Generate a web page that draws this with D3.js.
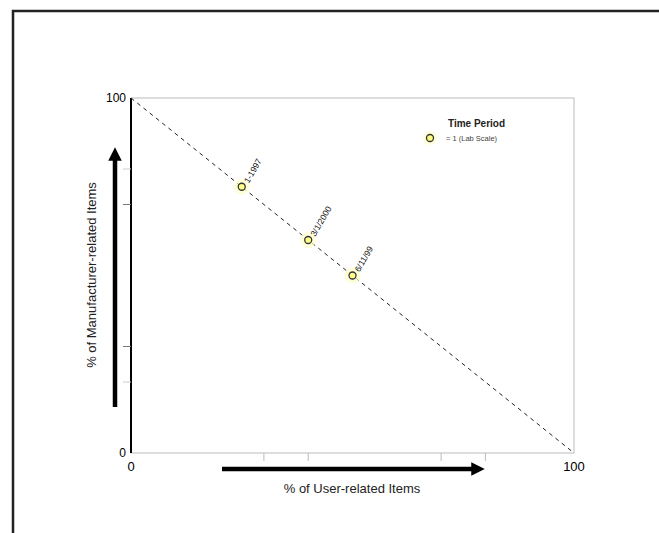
<!DOCTYPE html>
<html><head><meta charset="utf-8">
<script src="https://cdn.jsdelivr.net/npm/d3@7"></script>
<style>body{margin:0;background:#fff}svg{display:block}</style>
</head><body>
<script>
const pointX = [25, 40, 50];
const pointY = [75, 60, 50];
const pointLabels = ["1-1997", "3/1/2000", "6/11/99"];
const axisTicks = [0, 100];
const xMinorTicks = [30, 40, 70, 80];
const yMinorTicks = [20, 30, 70, 80];
const legendTitle = "Time Period";
const legendLabel = "= 1 (Lab Scale)";
const xTitle = "% of User-related Items";
const yTitle = "% of Manufacturer-related Items";

const W = 659, H = 533;
const svg = d3.select("body").append("svg").attr("width", W).attr("height", H);
svg.append("rect").attr("width", W).attr("height", H).attr("fill", "#fff");
svg.append("path").attr("d", `M13,${H+5} L13,11 L${W+5},11`).attr("fill","none").attr("stroke","#222").attr("stroke-width",2.5);

const x = d3.scaleLinear().domain([0,100]).range([131,574]);
const y = d3.scaleLinear().domain([0,100]).range([453,98]);

svg.append("rect").attr("x",x(0)).attr("y",y(100)).attr("width",x(100)-x(0)).attr("height",y(0)-y(100))
  .attr("fill","none").attr("stroke","#bbb").attr("stroke-width",1);
svg.append("line").attr("x1",x(0)).attr("x2",x(0)).attr("y1",y(100)).attr("y2",y(0)).attr("stroke","#000").attr("stroke-width",2);

svg.selectAll(".xt").data(xMinorTicks).enter().append("line")
  .attr("x1",d=>x(d)).attr("x2",d=>x(d)).attr("y1",y(0)).attr("y2",y(0)+8).attr("stroke","#bbb");
svg.selectAll(".yt").data(yMinorTicks).enter().append("line")
  .attr("y1",d=>y(d)).attr("y2",d=>y(d)).attr("x1",x(0)-8).attr("x2",x(0))
  .attr("stroke",d=>(d===30||d===70)?"#777":"#ccc");

const tf = "'Liberation Sans', Arial, sans-serif";
svg.selectAll(".xl").data(axisTicks).enter().append("text")
  .attr("x",d=>x(d)).attr("y",y(0)+18).attr("text-anchor","middle")
  .attr("font-family",tf).attr("font-size",13).text(d=>d);
svg.selectAll(".yl").data(axisTicks).enter().append("text")
  .attr("x",x(0)-5).attr("y",d=>y(d)+4).attr("text-anchor","end")
  .attr("font-family",tf).attr("font-size",12).text(d=>d);

svg.append("line").attr("x1",x(0)).attr("y1",y(100)).attr("x2",x(100)).attr("y2",y(0))
  .attr("stroke","#222").attr("stroke-width",1).attr("stroke-dasharray","4,4");

const defs = svg.append("defs");
defs.append("marker").attr("id","ah").attr("viewBox","0 0 10 10").attr("refX",5).attr("refY",5)
  .attr("markerWidth",3).attr("markerHeight",3).attr("orient","auto")
  .append("path").attr("d","M0,0 L10,5 L0,10 Z").attr("fill","#000");
svg.append("line").attr("x1",222).attr("y1",469).attr("x2",478).attr("y2",469)
  .attr("stroke","#000").attr("stroke-width",4.5).attr("marker-end","url(#ah)");
svg.append("line").attr("x1",115).attr("y1",407).attr("x2",115).attr("y2",154)
  .attr("stroke","#000").attr("stroke-width",4.5).attr("marker-end","url(#ah)");

svg.append("text").attr("x",352).attr("y",493).attr("text-anchor","middle")
  .attr("font-family",tf).attr("font-size",13).attr("fill","#222").text(xTitle);
svg.append("text").attr("transform","translate(96,275) rotate(-90)").attr("text-anchor","middle")
  .attr("font-family",tf).attr("font-size",13).attr("fill","#222").text(yTitle);

const pts = pointX.map((v,i)=>({x:v,y:pointY[i],l:pointLabels[i]}));
svg.selectAll(".glow").data(pts).enter().append("circle")
  .attr("cx",d=>x(d.x)).attr("cy",d=>y(d.y)).attr("r",8).attr("fill","#ffffcc").attr("opacity",0.7);
svg.selectAll(".pt").data(pts).enter().append("circle")
  .attr("cx",d=>x(d.x)).attr("cy",d=>y(d.y)).attr("r",3.5)
  .attr("fill","#ffff88").attr("stroke","#333").attr("stroke-width",1.3);
svg.selectAll(".pl").data(pts).enter().append("text")
  .attr("transform",d=>`translate(${x(d.x)+7},${y(d.y)-3}) rotate(-60)`)
  .attr("font-family",tf).attr("font-size",8.5).attr("fill","#111").text(d=>d.l);

svg.append("text").attr("x",448).attr("y",127).attr("font-family",tf).attr("font-size",10)
  .attr("font-weight","bold").attr("fill","#222").text(legendTitle);
svg.append("circle").attr("cx",430).attr("cy",138).attr("r",7).attr("fill","#ffffcc").attr("opacity",0.7);
svg.append("circle").attr("cx",430).attr("cy",138).attr("r",3.5).attr("fill","#ffff88").attr("stroke","#333").attr("stroke-width",1.3);
svg.append("text").attr("x",446).attr("y",141).attr("font-family",tf).attr("font-size",7.5)
  .attr("fill","#444").text(legendLabel);
</script>
</body></html>
